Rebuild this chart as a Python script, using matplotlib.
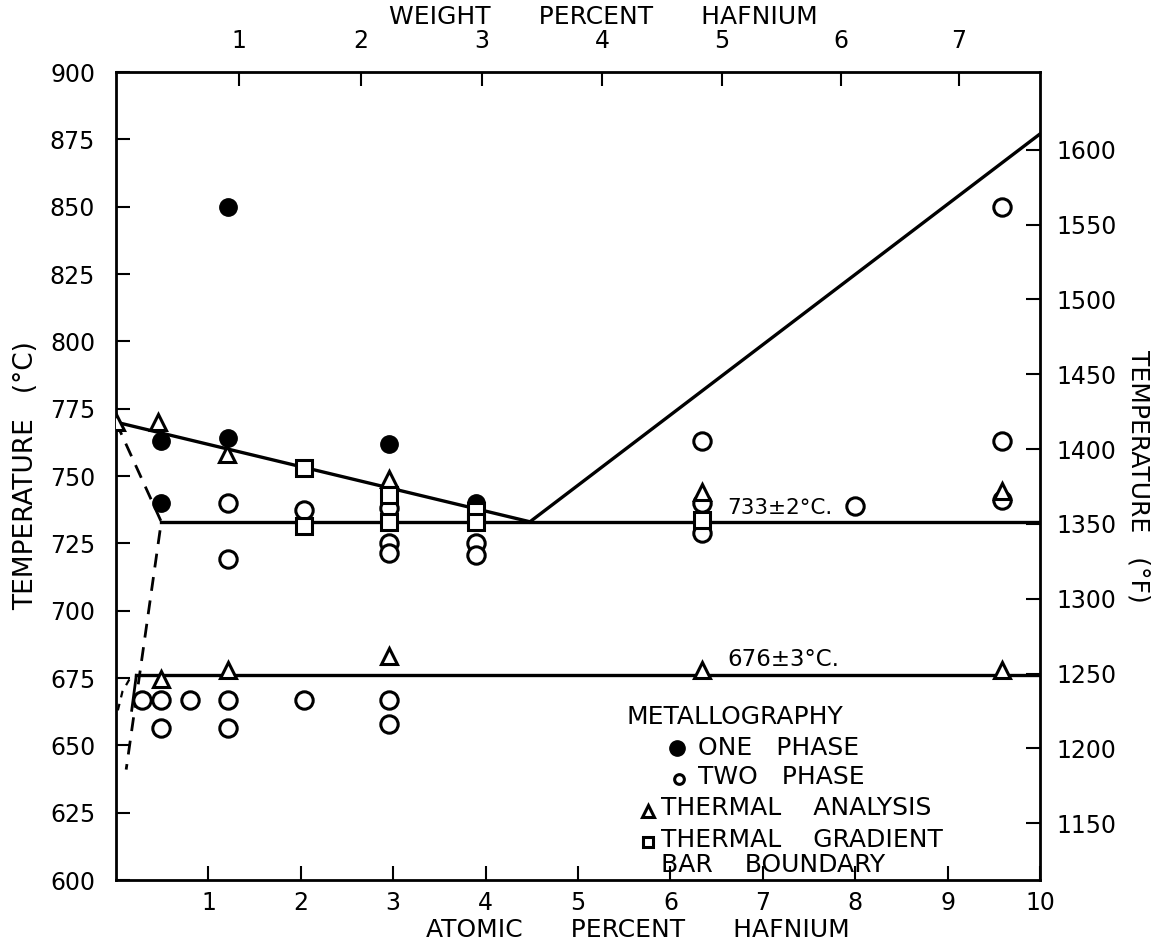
import numpy as np
import matplotlib
matplotlib.use("Agg")
import matplotlib.pyplot as plt

plt.rcParams['font.family'] = ['DejaVu Sans']

# Data (atomic % Hf, temperature °C)
one_phase_x = [0.49, 0.49, 1.21, 1.21, 2.95, 3.9]
one_phase_y = [763, 740, 850, 764, 762, 740]

two_phase_x = [1.21, 1.21, 2.03, 2.95, 2.95, 2.95, 3.9, 3.9,
               6.34, 6.34, 6.34, 8.0, 9.59, 9.59, 9.59,
               0.28, 0.49, 0.8, 1.21, 2.03, 2.95,
               0.49, 1.21, 2.95]
two_phase_y = [740, 719, 737.5, 738, 725, 721.5, 725, 720.5,
               763, 740, 729, 739, 850, 763, 741,
               667, 667, 667, 667, 667, 667,
               656.5, 656.5, 658]

thermal_x = [0.0, 0.45, 1.2, 2.95, 6.34, 9.59, 0.49, 1.21, 2.95, 6.34, 9.59]
thermal_y = [770, 770, 758, 749, 744, 744.5, 674.5, 678, 683, 678, 678]

gradient_x = [2.03, 2.03, 2.95, 2.95, 3.9, 3.9, 6.34]
gradient_y = [753, 731.5, 743, 733, 737, 733, 733.5]

# phase boundaries
gamma_x = [0.0, 4.48]
gamma_y = [770, 733]
hf_x = [4.48, 10.0]
hf_y = [733, 877]
eutectoid_x = [0.49, 10.0]
eutectoid_y = [733, 733]
lower_x = [0.22, 10.0]
lower_y = [676, 676]
lower_lead_x = [0.17, 0.22]
lower_lead_y = [663, 676]
dash1_x = [0.0, 0.49, 0.11]
dash1_y = [770, 733, 641]
dash2_x = [0.02, 0.07, 0.17]
dash2_y = [663, 670, 676]

x_ticks = [1, 2, 3, 4, 5, 6, 7, 8, 9, 10]
y_ticks = [600, 625, 650, 675, 700, 725, 750, 775, 800, 825, 850, 875, 900]
f_ticks = [1150, 1200, 1250, 1300, 1350, 1400, 1450, 1500, 1550, 1600]
wt_ticks = [1, 2, 3, 4, 5, 6, 7]

M_U, M_HF = 238.03, 178.49


def at_to_wt(a):
    a = np.asarray(a, dtype=float)
    return 100 * a * M_HF / (a * M_HF + (100 - a) * M_U)


def wt_to_at(w):
    w = np.asarray(w, dtype=float) / 100.0
    return 100 * w * M_U / (M_HF + w * (M_U - M_HF))


fig = plt.figure(figsize=(11.61, 9.51), dpi=100)
ax = fig.add_axes([116/1161, 1 - 880/951, (1040-116)/1161, (880-72)/951])
ax.set_xlim(0, 10)
ax.set_ylim(600, 900)

lw = 2.4
ax.plot(gamma_x, gamma_y, color='black', lw=lw)
ax.plot(hf_x, hf_y, color='black', lw=lw)
ax.plot(eutectoid_x, eutectoid_y, color='black', lw=lw)
ax.plot(lower_x, lower_y, color='black', lw=lw)
ax.plot(lower_lead_x, lower_lead_y, color='black', lw=2)
ax.plot(dash1_x, dash1_y, color='black', lw=2, ls=(0, (5, 3.5)))
ax.plot(dash2_x, dash2_y, color='black', lw=1.6, ls=(0, (3, 3)))

ms = 12.5
ax.plot(two_phase_x, two_phase_y, ls='none', marker='o', ms=ms, mfc='white',
        mec='black', mew=2.2, zorder=5)
ax.plot(one_phase_x, one_phase_y, ls='none', marker='o', ms=ms, mfc='black',
        mec='black', zorder=6)
ax.plot(thermal_x, thermal_y, ls='none', marker='^', ms=12, mfc='white',
        mec='black', mew=2.2, zorder=6)
ax.plot(gradient_x, gradient_y, ls='none', marker='s', ms=11, mfc='white',
        mec='black', mew=2.2, zorder=6)

ax.text(6.62, 734.5, '733±2°C.', fontsize=15.5, ha='left', va='bottom')
ax.text(6.62, 677.5, '676±3°C.', fontsize=16.5, ha='left', va='bottom')

# legend block drawn as text
fs = 18
ax.text(5.53, 660.5, 'METALLOGRAPHY', fontsize=fs, ha='left', va='center')
ax.plot([6.07], [649], marker='o', ms=11, mfc='black', mec='black', ls='none')
ax.text(6.3, 649, 'ONE   PHASE', fontsize=fs, ha='left', va='center')
ax.plot([6.09], [637.6], marker='o', ms=7, mfc='white', mec='black', mew=2.2, ls='none')
ax.text(6.3, 638.2, 'TWO   PHASE', fontsize=fs, ha='left', va='center')
ax.plot([5.76], [625.6], marker='^', ms=8, mfc='white', mec='black', mew=2.2, ls='none')
ax.text(5.9, 626.7, 'THERMAL    ANALYSIS', fontsize=fs, ha='left', va='center')
ax.plot([5.76], [614], marker='s', ms=7, mfc='white', mec='black', mew=2.2, ls='none')
ax.text(5.9, 614.9, 'THERMAL    GRADIENT', fontsize=fs, ha='left', va='center')
ax.text(5.9, 605.5, 'BAR    BOUNDARY', fontsize=fs, ha='left', va='center')

for sp in ax.spines.values():
    sp.set_linewidth(2)

ax.set_xticks(x_ticks)
ax.set_xticklabels([str(t) for t in x_ticks])
ax.set_yticks(y_ticks)
ax.tick_params(axis='both', direction='in', length=10, width=1.5, labelsize=17)
ax.tick_params(axis='y', pad=15)
ax.tick_params(axis='x', pad=8)
ax.set_xlabel('ATOMIC      PERCENT      HAFNIUM', fontsize=18, labelpad=2)
ax.xaxis.label.set_x(0.565)
ax.set_ylabel('TEMPERATURE   (°C)', fontsize=19, labelpad=8)

secx = ax.secondary_xaxis('top', functions=(at_to_wt, wt_to_at))
secx.set_xticks(wt_ticks)
secx.tick_params(direction='in', length=10, width=1.5, labelsize=17, pad=14)
secx.set_xlabel('WEIGHT      PERCENT      HAFNIUM', fontsize=18, labelpad=3)
secx.xaxis.label.set_x(0.527)

secy = ax.secondary_yaxis('right', functions=(lambda c: np.asarray(c) * 9 / 5 + 32,
                                               lambda f: (np.asarray(f) - 32) * 5 / 9))
secy.set_yticks(f_ticks)
secy.tick_params(direction='in', length=10, width=1.5, labelsize=17, pad=12)
secy.set_ylabel('TEMPERATURE   (°F)', fontsize=18, rotation=-90, labelpad=24)

fig.savefig('out.png', dpi=100)
